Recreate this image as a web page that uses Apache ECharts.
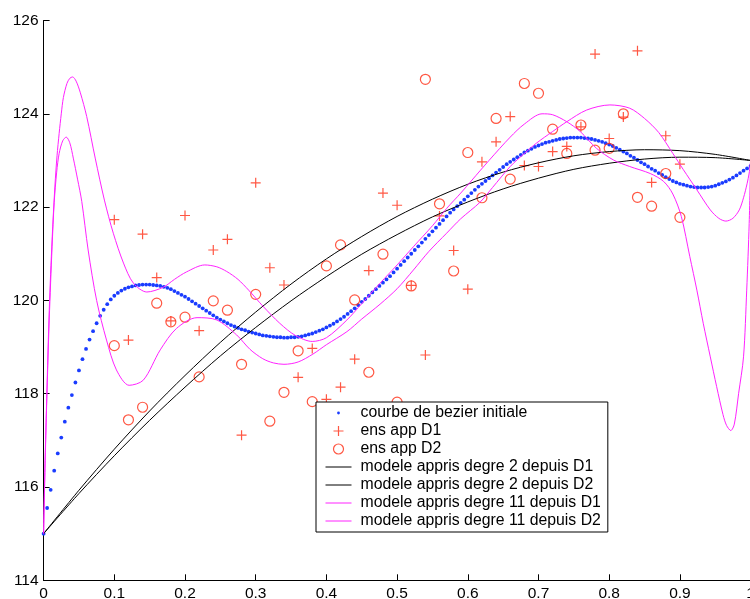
<!DOCTYPE html>
<html>
<head>
<meta charset="utf-8">
<script src="https://cdn.jsdelivr.net/npm/echarts@6/dist/echarts.min.js"></script>
<style>
  html, body { margin: 0; padding: 0; background: #fff; }
  #chart { width: 750px; height: 599px; }
</style>
</head>
<body>
<div id="chart"></div>
<script>
// Axis ticks
const xTicks = [0, 0.1, 0.2, 0.3, 0.4, 0.5, 0.6, 0.7, 0.8, 0.9, 1];
const yTicks = [114, 116, 118, 120, 122, 124, 126];

// Initial Bezier curve, sampled every bezierStep along x (0 .. 1)
const bezierStep = 0.005;
const bezierY = [
  115.00,115.55,115.94,116.35,116.72,117.06,117.40,117.70,117.97,118.24,
  118.50,118.74,118.96,119.16,119.34,119.51,119.67,119.80,119.92,120.02,
  120.10,120.16,120.21,120.25,120.28,120.30,120.32,120.33,120.34,120.34,
  120.34,120.33,120.32,120.31,120.29,120.27,120.24,120.20,120.16,120.12,
  120.08,120.03,119.98,119.93,119.88,119.83,119.78,119.73,119.68,119.63,
  119.59,119.55,119.51,119.47,119.44,119.41,119.38,119.36,119.33,119.31,
  119.29,119.27,119.25,119.24,119.23,119.22,119.21,119.21,119.20,119.20,
  119.21,119.21,119.22,119.23,119.25,119.27,119.29,119.32,119.35,119.38,
  119.42,119.46,119.50,119.55,119.60,119.65,119.71,119.77,119.83,119.90,
  119.97,120.03,120.10,120.17,120.24,120.31,120.38,120.45,120.52,120.60,
  120.68,120.76,120.84,120.92,121.00,121.08,121.16,121.24,121.32,121.40,
  121.48,121.56,121.64,121.72,121.80,121.88,121.95,122.02,122.09,122.16,
  122.23,122.30,122.37,122.44,122.50,122.56,122.62,122.68,122.74,122.80,
  122.86,122.92,122.97,123.02,123.07,123.12,123.17,123.21,123.25,123.29,
  123.32,123.35,123.38,123.40,123.42,123.44,123.46,123.47,123.48,123.49,
  123.49,123.49,123.49,123.48,123.47,123.46,123.44,123.42,123.40,123.37,
  123.34,123.31,123.27,123.23,123.19,123.15,123.10,123.06,123.01,122.96,
  122.92,122.87,122.82,122.78,122.73,122.69,122.64,122.60,122.56,122.53,
  122.50,122.48,122.46,122.44,122.43,122.42,122.42,122.42,122.43,122.44,
  122.46,122.49,122.52,122.55,122.59,122.63,122.68,122.73,122.78,122.83,
  122.88
];

// Training sets D1 and D2 (same x positions)
const sampleX = [0.10,0.12,0.14,0.16,0.18,0.20,0.22,0.24,0.26,0.28,0.30,0.32,0.34,0.36,0.38,0.40,
  0.42,0.44,0.46,0.48,0.50,0.52,0.54,0.56,0.58,0.60,0.62,0.64,0.66,0.68,0.70,0.72,0.74,0.76,0.78,
  0.80,0.82,0.84,0.86,0.88,0.90];
const d1Y = [121.73,119.15,121.42,120.49,119.56,121.82,119.35,121.08,121.31,117.11,122.52,120.70,
  120.33,118.35,118.97,117.88,118.14,118.74,120.64,122.30,122.04,120.32,118.83,121.81,121.07,120.24,
  122.97,123.40,123.94,122.89,122.87,123.19,123.30,123.72,125.28,123.47,123.93,125.35,122.53,123.53,
  122.92];
const d2Y = [119.03,117.44,117.71,119.94,119.54,119.64,118.36,119.99,119.79,118.63,120.13,117.41,
  118.03,118.92,117.83,120.74,121.19,120.01,118.46,120.99,117.82,120.31,124.74,122.07,120.63,123.17,
  122.20,123.90,122.60,124.65,124.44,123.67,123.15,123.76,123.22,123.26,124.00,122.21,122.02,122.72,
  121.78];

// Degree-2 models
const modelX = [0,0.05,0.1,0.15,0.2,0.25,0.3,0.35,0.4,0.45,0.5,0.55,0.6,0.65,0.7,0.75,0.8,0.85,0.9,0.95,1];
const deg2D1Y = [115.00,115.93,116.81,117.63,118.39,119.10,119.75,120.35,120.89,121.37,121.80,
  122.17,122.49,122.75,122.95,123.10,123.19,123.23,123.21,123.13,123.00];
const deg2D2Y = [115.00,115.86,116.67,117.43,118.14,118.81,119.42,119.99,120.51,120.99,121.41,
  121.79,122.11,122.39,122.62,122.81,122.94,123.03,123.07,123.06,123.00];

// Degree-11 models, [x, y]
const deg11D1 = [[0,115],[0.002,116.5],[0.0044,117.9],[0.008,119.8],[0.012,121.3],[0.016,122.45],
  [0.019,123.1],[0.022,123.58],[0.025,124.0],[0.028,124.35],[0.033,124.65],[0.037,124.76],[0.041,124.79],
  [0.046,124.7],[0.052,124.45],[0.061,123.94],[0.073,123.05],[0.086,122.15],[0.0986,121.44],[0.113,120.8],
  [0.127,120.37],[0.146,120.18],[0.169,120.28],[0.185,120.45],[0.202,120.61],[0.228,120.76],[0.245,120.72],
  [0.259,120.62],[0.275,120.45],[0.29,120.22],[0.31,119.88],[0.334,119.51],[0.356,119.25],[0.38,119.12],
  [0.40,119.2],[0.429,119.58],[0.45,119.93],[0.476,120.37],[0.50,120.76],[0.523,121.15],[0.55,121.6],
  [0.57,121.97],[0.59,122.3],[0.606,122.58],[0.63,123.0],[0.66,123.5],[0.68,123.78],[0.705,124.0],
  [0.72,123.98],[0.74,123.83],[0.759,123.62],[0.782,123.26],[0.806,123.01],[0.829,122.87],[0.858,122.72],
  [0.877,122.55],[0.89,122.28],[0.902,121.8],[0.914,120.94],[0.924,120.22],[0.933,119.51],[0.943,118.79],
  [0.952,118.15],[0.961,117.55],[0.966,117.32],[0.972,117.21],[0.977,117.35],[0.983,118.0],[0.99,118.79],
  [0.9945,120.22],[0.998,121.65],[1,123]];
const deg11D2 = [[0,115],[0.002,116.4],[0.0044,117.8],[0.008,119.6],[0.012,121.15],[0.015,122.1],
  [0.0185,122.75],[0.022,123.15],[0.027,123.42],[0.032,123.5],[0.037,123.38],[0.042,123.05],[0.048,122.6],
  [0.054,122.12],[0.063,121.08],[0.075,120.0],[0.089,119.15],[0.103,118.51],[0.121,118.18],[0.141,118.29],
  [0.165,118.94],[0.188,119.4],[0.217,119.63],[0.245,119.58],[0.273,119.26],[0.292,118.95],[0.31,118.75],
  [0.325,118.66],[0.34,118.63],[0.36,118.68],[0.381,118.85],[0.40,119.05],[0.429,119.33],[0.45,119.6],
  [0.476,119.92],[0.50,120.25],[0.523,120.65],[0.545,121.05],[0.57,121.44],[0.59,121.75],[0.617,122.1],
  [0.635,122.42],[0.66,122.87],[0.68,123.15],[0.697,123.37],[0.72,123.62],[0.74,123.83],[0.768,124.08],
  [0.801,124.19],[0.829,124.12],[0.85,123.9],[0.87,123.6],[0.89,123.15],[0.905,122.8],[0.924,122.37],
  [0.943,121.94],[0.955,121.76],[0.965,121.7],[0.975,121.76],[0.984,121.94],[0.99,122.2],[0.995,122.5],
  [0.998,122.73],[1,123]];

const seriesNames = [
  'courbe de bezier initiale',
  'ens app D1',
  'ens app D2',
  'modele appris degre 2 depuis D1',
  'modele appris degre 2 depuis D2',
  'modele appris degre 11 depuis D1',
  'modele appris degre 11 depuis D2'
];

const BLUE = '#1a3cff';
const RED = '#ff2d14';
const MAGENTA = '#ff22ff';
const BLACK = '#000000';
const FONT = 'Liberation Sans, Arial, Helvetica, sans-serif';

const PLUS = 'path://M0,5L10,5M5,0L5,10';
const LEGEND_LINE = 'path://M0,0M0,5L26,5M26,10';
const LEGEND_DOT = 'path://M0,0M10,10M3.6,5A1.4,1.4,0,1,1,6.4,5A1.4,1.4,0,1,1,3.6,5Z';
const HOLLOW = (c, w) => ({ color: 'rgba(0,0,0,0)', borderColor: c, borderWidth: w || 1 });

const bezierData = bezierY.map((y, i) => [i * bezierStep, y]);
const d1Data = sampleX.map((x, i) => [x, d1Y[i]]);
const d2Data = sampleX.map((x, i) => [x, d2Y[i]]);
const deg2D1 = modelX.map((x, i) => [x, deg2D1Y[i]]);
const deg2D2 = modelX.map((x, i) => [x, deg2D2Y[i]]);

const lineSeries = (name, data, color) => ({
  name, type: 'line', data, smooth: 0.3, symbol: 'none', showSymbol: false,
  lineStyle: { color, width: 1 }, itemStyle: { color }, silent: true
});

const chart = echarts.init(document.getElementById('chart'), null, { renderer: 'canvas' });
chart.setOption({
  animation: false,
  backgroundColor: '#ffffff',
  grid: { left: 43.6, top: 20.5, width: 707, height: 559.8, containLabel: false, outerBoundsMode: 'none' },
  xAxis: {
    type: 'value',
    min: xTicks[0], max: xTicks[xTicks.length - 1], interval: xTicks[1] - xTicks[0],
    axisLine: { show: true, onZero: false, lineStyle: { color: BLACK, width: 1 } },
    axisTick: { show: true, inside: true, length: 6, lineStyle: { color: BLACK, width: 1 } },
    axisLabel: { show: true, margin: 5, color: BLACK, fontSize: 15.5, fontFamily: FONT,
      showMinLabel: true, showMaxLabel: true, hideOverlap: false },
    splitLine: { show: false }
  },
  yAxis: {
    type: 'value',
    min: yTicks[0], max: yTicks[yTicks.length - 1], interval: yTicks[1] - yTicks[0],
    axisLine: { show: true, onZero: false, lineStyle: { color: BLACK, width: 1 } },
    axisTick: { show: true, inside: true, length: 6, lineStyle: { color: BLACK, width: 1 } },
    axisLabel: { show: true, margin: 5, color: BLACK, fontSize: 15.5, fontFamily: FONT,
      showMinLabel: true, showMaxLabel: true, hideOverlap: false },
    splitLine: { show: false }
  },
  legend: {
    orient: 'vertical',
    left: 316, top: 402,
    padding: [2, 7, 2, 9],
    itemWidth: 26, itemHeight: 10, itemGap: 0,
    borderColor: BLACK, borderWidth: 1, borderRadius: 0,
    backgroundColor: '#ffffff',
    selectedMode: false,
    textStyle: { color: BLACK, fontSize: 15.8, fontFamily: FONT, lineHeight: 18, padding: [0, 0, 0, 4] },
    data: [
      { name: seriesNames[0], icon: LEGEND_DOT, itemStyle: { color: BLUE, borderWidth: 0 } },
      { name: seriesNames[1], icon: PLUS, itemStyle: HOLLOW(RED, 1.2) },
      { name: seriesNames[2], icon: 'circle', itemStyle: HOLLOW(RED, 1.2) },
      { name: seriesNames[3], icon: LEGEND_LINE, itemStyle: HOLLOW(BLACK) },
      { name: seriesNames[4], icon: LEGEND_LINE, itemStyle: HOLLOW(BLACK) },
      { name: seriesNames[5], icon: LEGEND_LINE, itemStyle: HOLLOW(MAGENTA) },
      { name: seriesNames[6], icon: LEGEND_LINE, itemStyle: HOLLOW(MAGENTA) }
    ]
  },
  series: [
    { name: seriesNames[0], type: 'scatter', data: bezierData, symbol: 'circle', symbolSize: 3.8,
      itemStyle: { color: BLUE, opacity: 1 }, silent: true },
    { name: seriesNames[1], type: 'scatter', data: d1Data, symbol: PLUS, symbolSize: 10,
      itemStyle: HOLLOW(RED, 1.2), silent: true },
    { name: seriesNames[2], type: 'scatter', data: d2Data, symbol: 'circle', symbolSize: 10,
      itemStyle: HOLLOW(RED, 1.2), silent: true },
    lineSeries(seriesNames[3], deg2D1, BLACK),
    lineSeries(seriesNames[4], deg2D2, BLACK),
    lineSeries(seriesNames[5], deg11D1, MAGENTA),
    lineSeries(seriesNames[6], deg11D2, MAGENTA)
  ]
});
</script>
</body>
</html>
